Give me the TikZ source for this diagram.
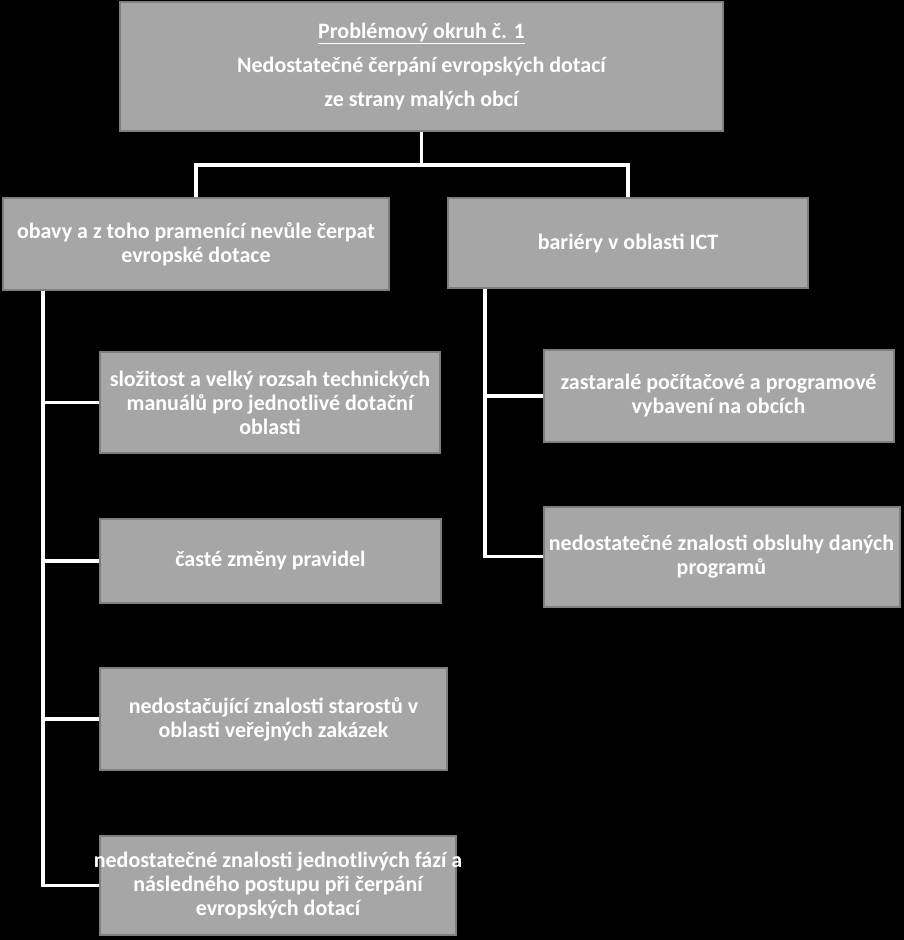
\documentclass[tikz,border=0pt]{standalone}
\usepackage{fontspec}
\setmainfont{Carlito}
\usetikzlibrary{calc}
\definecolor{boxfill}{HTML}{A6A6A6}
\definecolor{boxline}{HTML}{7F7F7F}
\tikzset{
  box/.style={draw=boxline, line width=2pt, fill=boxfill, text=white, inner sep=0pt,
    align=center, font=\fontsize{22}{24}\selectfont\bfseries},
  conn/.style={draw=white, line width=3.5pt}
}
\begin{document}
\begin{tikzpicture}[x=1pt,y=-1pt]
\fill[black] (0,0) rectangle (904,940);
\useasboundingbox (0,0) rectangle (904,940);
\node[box, minimum width=603pt, minimum height=129pt, font=\fontsize{22}{34}\selectfont\bfseries] (top) at (421.5,66.5)
  {\underline{Problémový okruh č. 1}\\Nedostatečné čerpání evropských dotací\\ze strany malých obcí};
\node[box, minimum width=386pt, minimum height=92pt] (l1) at (196,244)
  {obavy a z toho pramenící nevůle čerpat\\evropské dotace};
\node[box, minimum width=360pt, minimum height=90pt] (r1) at (628,243)
  {bariéry v oblasti ICT};
\node[box, minimum width=340pt, minimum height=101pt] (lc1) at (270,402.5)
  {složitost a velký rozsah technických\\manuálů pro jednotlivé dotační\\oblasti};
\node[box, minimum width=341pt, minimum height=84pt] (lc2) at (270.5,561)
  {časté změny pravidel};
\node[box, minimum width=347pt, minimum height=102pt] (lc3) at (273.5,719)
  {nedostačující znalosti starostů v\\oblasti veřejných zakázek};
\node[box, minimum width=356pt, minimum height=99pt] (lc4) at (278,885.5)
  {\makebox[352pt][c]{nedostatečné znalosti jednotlivých fází a}\\následného postupu při čerpání\\evropských dotací};
\node[box, minimum width=350pt, minimum height=92pt] (rc1) at (718.5,396)
  {zastaralé počítačové a programové\\vybavení na obcích};
\node[box, minimum width=356pt, minimum height=100pt] (rc2) at (721.5,556.5)
  {nedostatečné znalosti obsluhy daných\\programů};
\coordinate (bus) at (0,165);
\coordinate (tl) at (43,0);
\coordinate (tr) at (485,0);
\draw[conn] (top.south) -- (top.south |- bus);
\draw[conn] (l1.north) -- (l1.north |- bus) -- (r1.north |- bus) -- (r1.north);
\draw[conn] (tl |- l1.south) -- (tl |- lc4.west) -- (lc4.west);
\draw[conn] (tl |- lc1.west) -- (lc1.west);
\draw[conn] (tl |- lc2.west) -- (lc2.west);
\draw[conn] (tl |- lc3.west) -- (lc3.west);
\draw[conn] (tr |- r1.south) -- (tr |- rc2.west) -- (rc2.west);
\draw[conn] (tr |- rc1.west) -- (rc1.west);
\end{tikzpicture}
\end{document}
